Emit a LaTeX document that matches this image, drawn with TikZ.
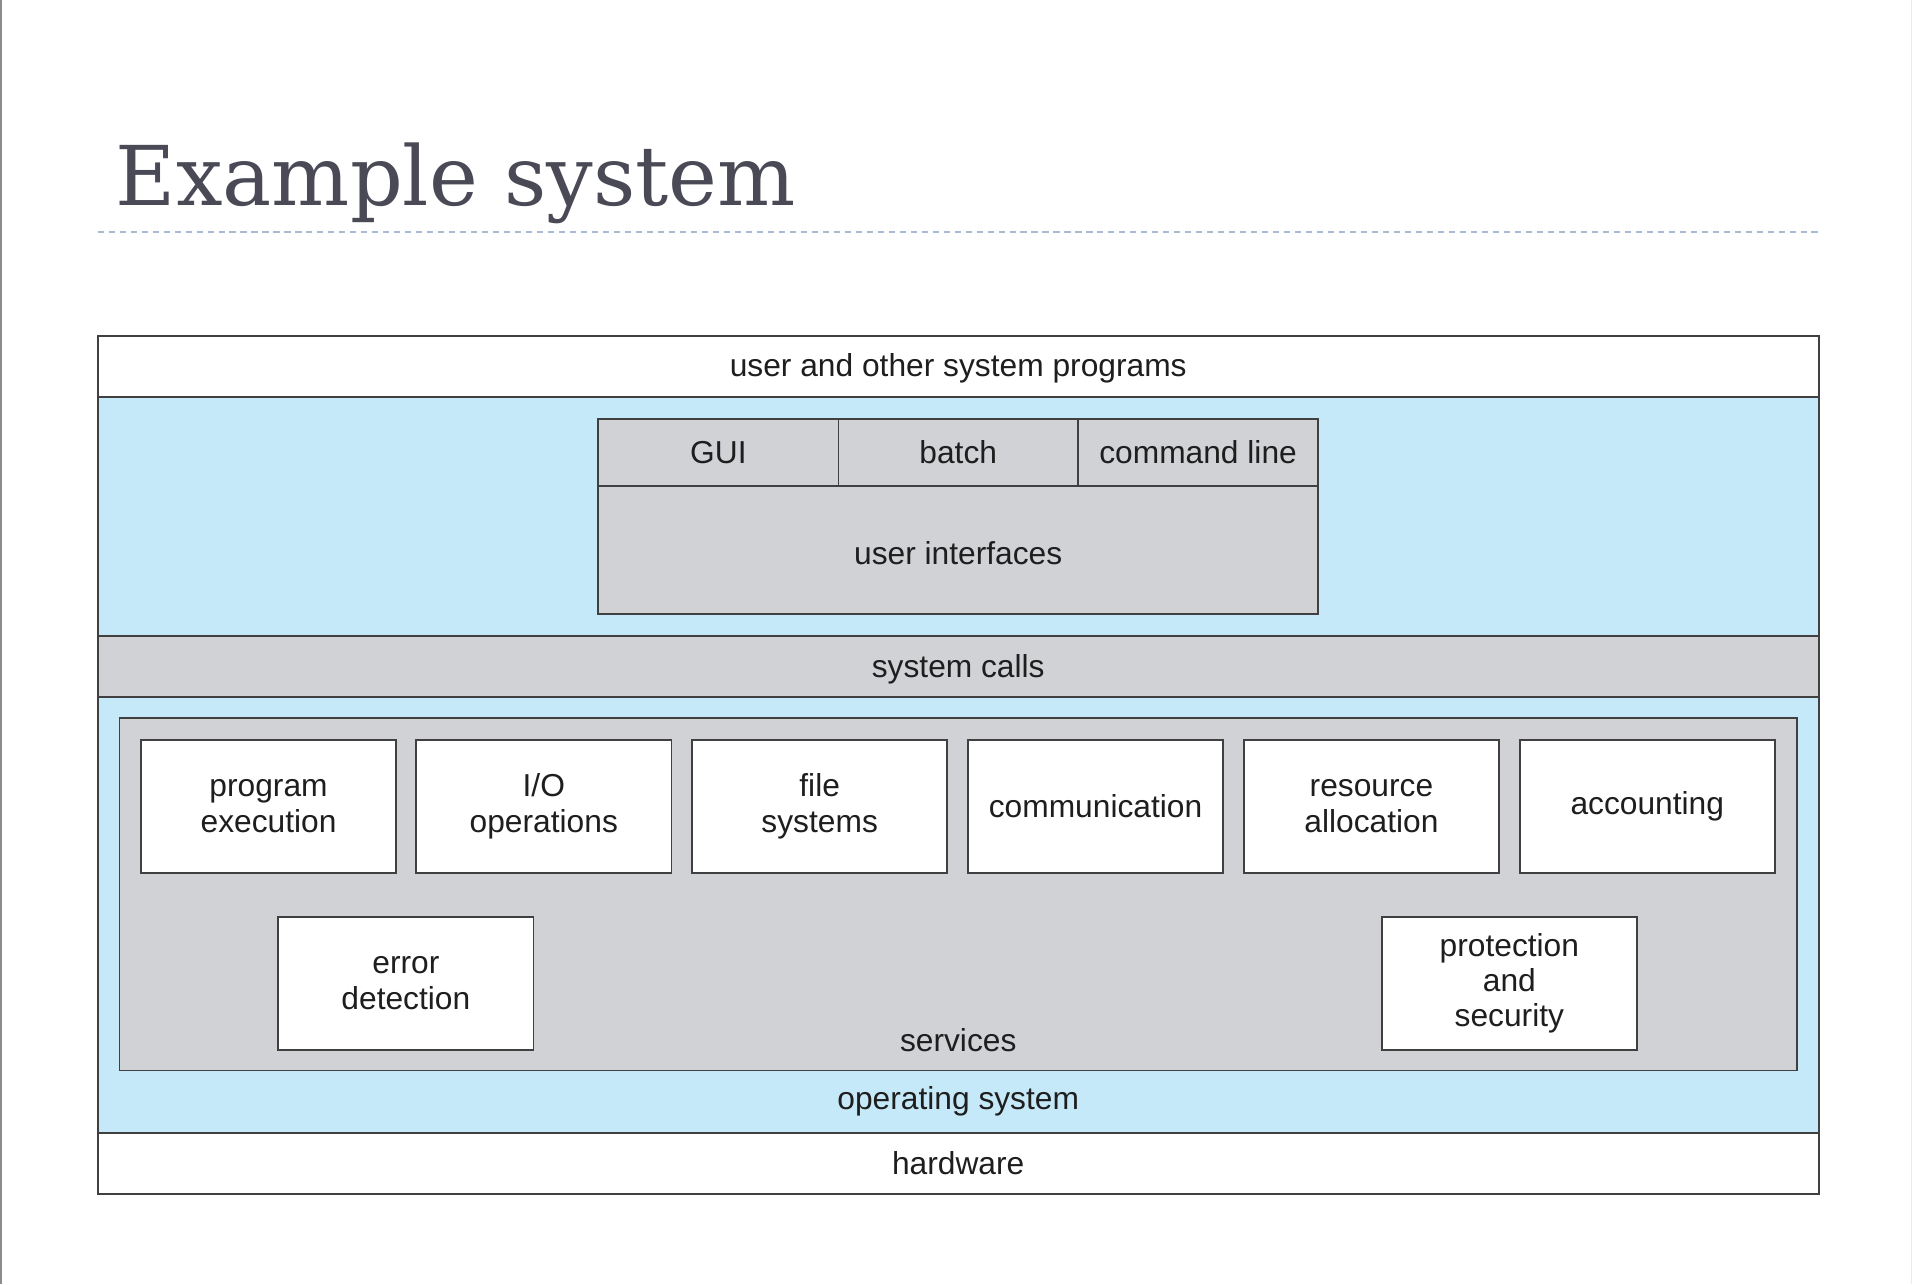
\documentclass[tikz,border=0pt]{standalone}
\usepackage{fontspec}
\setmainfont{Liberation Sans}
\newfontfamily\titlefont{DejaVu Serif}
\definecolor{bandblue}{HTML}{C6E9F9}
\definecolor{bandgray}{HTML}{D1D2D5}
\definecolor{edge}{HTML}{404040}
\definecolor{titlecol}{HTML}{4A4A56}
\definecolor{dashcol}{HTML}{A8BBD0}
\definecolor{txt}{HTML}{1E1E1E}
\begin{document}
\begin{tikzpicture}[x=0.5pt,y=-0.5pt,
  every node/.style={inner sep=0pt,outer sep=0pt,font=\fontsize{13pt}{14.5pt}\selectfont,text=txt},
  band/.style={rectangle,draw=edge,line width=0.7pt,minimum width=705pt},
  svc/.style={rectangle,draw=edge,line width=0.7pt,fill=white,minimum width=104.5pt,minimum height=54.5pt,align=center},
  cell/.style={rectangle,draw=edge,line width=0.7pt,fill=bandgray,align=center},
  lbl/.style={anchor=center}]
\useasboundingbox (0,0) rectangle (1568,1052);
\fill[white] (0,0) rectangle (1568,1052);
% page edges
\fill[black!45] (0,0) rectangle (2,1052);
\draw[black!8,line width=0.5pt] (1566,0) -- (1566,1052);
% title
\node[anchor=base west,font=\titlefont\fontsize{33.8pt}{36pt}\selectfont,text=titlecol] (title) at (95,168) {Example system};
\coordinate (dl) at (80,190);
\coordinate (dr) at (1490,190);
\draw[dashcol,line width=0.7pt,dash pattern=on 2.5pt off 2pt] (dl) -- (dr);
% bands
\node[band,fill=white,minimum height=25pt] (user) at (785,300) {};
\node[band,fill=bandblue,minimum height=98pt] (uiband) at (785,423) {};
\node[band,fill=bandgray,minimum height=25pt] (syscalls) at (785,546) {};
\node[band,fill=bandblue,minimum height=178.5pt] (os) at (785,749.5) {};
\node[band,fill=white,minimum height=25pt] (hw) at (785,953) {};
\node[lbl] at (785,302) {user and other system programs};
\node[lbl] at (785,548) {system calls};
\node[lbl] at (785,902) {operating system};
\node[lbl] at (785,953) {hardware};
% user interfaces
\node[cell,minimum width=295pt,minimum height=52.5pt] (uibody) at (785,450.5) {};
\node[lbl] at (785,453) {user interfaces};
\node[cell,minimum width=98.5pt,minimum height=27.5pt] (gui) at (588.5,370.5) {GUI};
\node[cell,minimum width=98pt,minimum height=27.5pt] (batch) at (785,370.5) {batch};
\node[cell,minimum width=98.5pt,minimum height=27.5pt] (cmd) at (981.5,370.5) {command line};
% services
\node[cell,minimum width=687pt,minimum height=144.5pt] (services) at (785,732.5) {};
\node[lbl] at (785,852) {services};
\node[svc] (pe) at (220,660.5) {program\\execution};
\node[svc] (io) at (445.5,660.5) {I/O\\operations};
\node[svc] (fs) at (671.5,660.5) {file\\systems};
\node[svc] (comm) at (897.5,660.5) {communication};
\node[svc] (ra) at (1123.5,660.5) {resource\\allocation};
\node[svc] (acc) at (1349.5,660.5) {accounting};
\node[svc] (err) at (332.5,805.5) {error\\detection};
\node[svc] (prot) at (1236.5,805.5) {protection\\and\\security};
\end{tikzpicture}
\end{document}
